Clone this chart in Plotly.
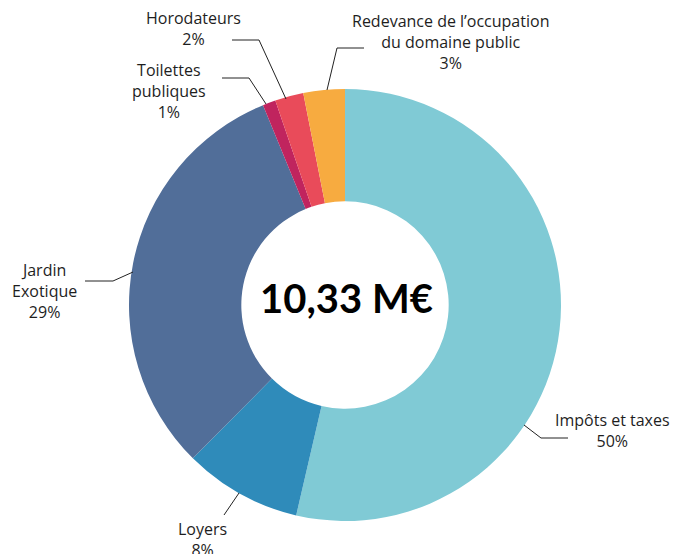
import plotly.graph_objects as go

W, H = 686, 554

# Data (M€) and displayed labels
categories = ["Impôts et taxes", "Loyers", "Jardin Exotique", "Toilettes publiques",
              "Horodateurs", "Redevance de l’occupation du domaine public"]
values = [5.54, 0.91, 3.24, 0.10, 0.22, 0.32]
pct_labels = ["50%", "8%", "29%", "1%", "2%", "3%"]
label_lines = [["Impôts et taxes"], ["Loyers"], ["Jardin", "Exotique"], ["Toilettes", "publiques"],
               ["Horodateurs"], ["Redevance de l’occupation", "du domaine public"]]
colors = ["#80CAD5", "#2F8BBA", "#516E99", "#C0245E", "#E94B5A", "#F7AB40"]
total_label = "10,33 M€"

def px(x):
    return x / W

def py(y):
    return 1 - y / H

cx, cy, r = 345, 305, 216

fig = go.Figure(go.Pie(
    labels=categories,
    values=values,
    sort=False,
    direction="clockwise",
    rotation=0,
    hole=0.48,
    marker=dict(colors=colors, line=dict(width=0)),
    textinfo="none",
    hoverinfo="label+percent",
    domain=dict(x=[px(cx - r), px(cx + r)], y=[py(cy + r), py(cy - r)]),
    showlegend=False,
))

# label placement (x centre, y of first line centre, in pixels) and leader lines
label_pos = [(612, 421), (202, 530), (45, 271), (169, 71), (193, 19), (450, 22)]
line_gap = 19.7
leaders = [
    [(524, 425), (541, 438), (568, 438)],
    [(239, 493), (224, 515)],
    [(133, 272), (113, 281), (85, 281)],
    [(266, 104), (249, 78), (222, 78)],
    [(286, 99), (259, 40), (232, 40)],
    [(327, 90), (337, 48), (364, 48)],
]

font = dict(family="Open Sans, sans-serif", size=16, color="#1e1e1e")
annotations = []
for (x, y), lines, p in zip(label_pos, label_lines, pct_labels):
    rows = lines + [p]
    ymid = y + (len(rows) - 1) * line_gap / 2
    annotations.append(dict(
        x=px(x), y=py(ymid), xref="paper", yref="paper",
        text="<br>".join(rows), showarrow=False, align="center",
        xanchor="center", yanchor="middle", font=font, borderpad=0,
    ))
annotations.append(dict(
    x=px(346), y=py(298), xref="paper", yref="paper", text=f"<b>{total_label}</b>",
    showarrow=False, xanchor="center", yanchor="middle",
    font=dict(family="Lato, sans-serif", size=40, color="#000000"),
))

shapes = []
for pts in leaders:
    path = "M " + " L ".join(f"{px(x)},{py(y)}" for x, y in pts)
    shapes.append(dict(type="path", path=path, xref="paper", yref="paper",
                       line=dict(color="#222222", width=1)))

fig.update_layout(
    width=W, height=H,
    margin=dict(l=0, r=0, t=0, b=0),
    paper_bgcolor="white", plot_bgcolor="white",
    annotations=annotations, shapes=shapes,
)

fig.write_html("out.html", config={"displayModeBar": False},
               post_script="document.body.style.margin='0';document.body.style.overflow='hidden';")
